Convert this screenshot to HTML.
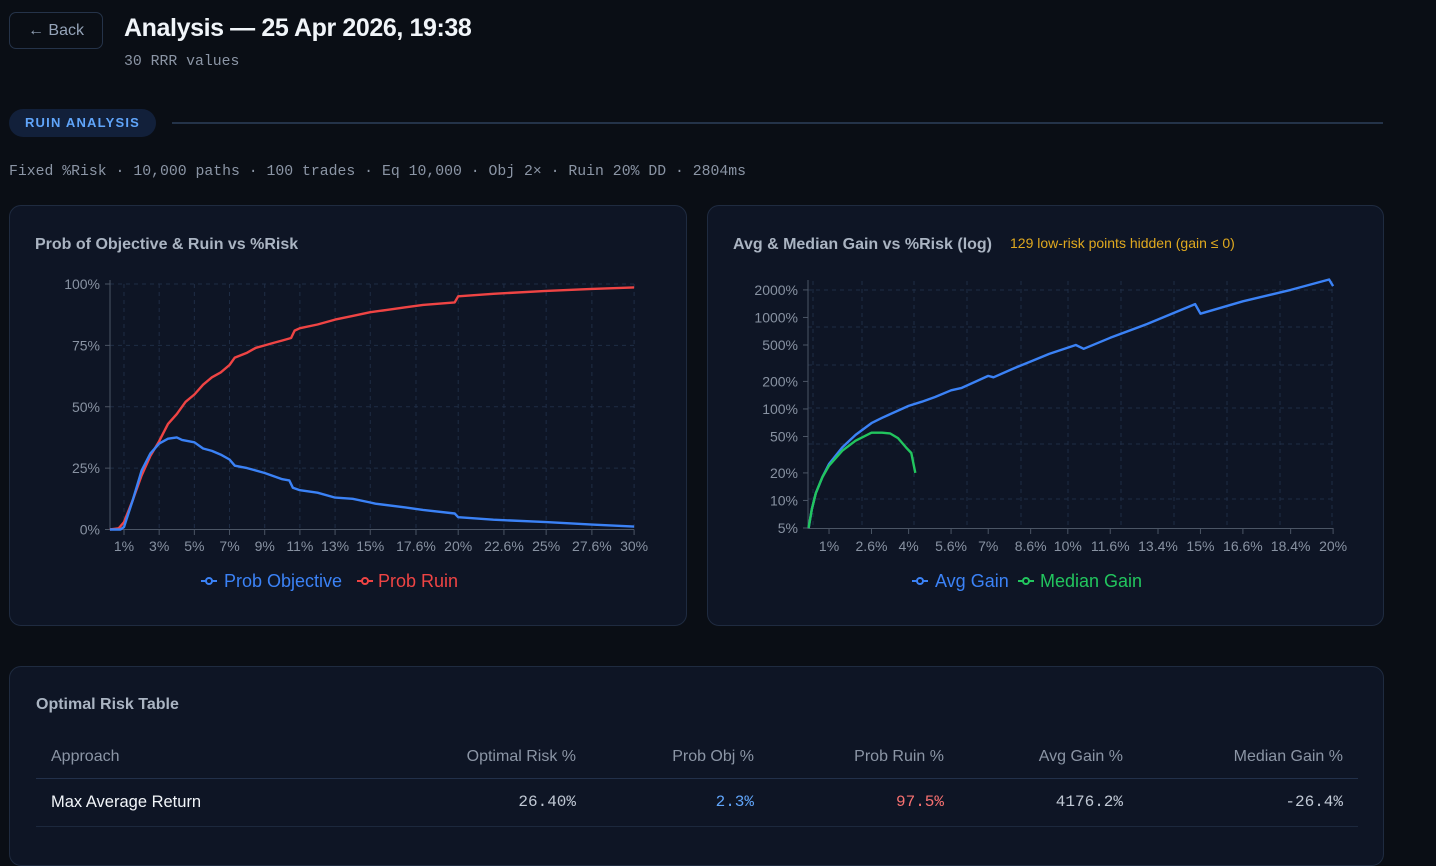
<!DOCTYPE html>
<html><head><meta charset="utf-8">
<style>
*{box-sizing:border-box;margin:0;padding:0}
html,body{width:1436px;height:834px;overflow:hidden;background:#0a0e15;font-family:"Liberation Sans",sans-serif;color:#e5e7eb}
.abs{position:absolute}
.mono{font-family:"Liberation Mono",monospace}
.back{left:9px;top:12px;width:94px;height:37px;border:1px solid #253349;border-radius:7px;color:#94a3b8;font-size:16px;line-height:35px;text-align:center}
.title{left:124px;top:14px;font-size:25px;font-weight:bold;color:#f1f5f9;letter-spacing:-0.4px}
.sub{left:124px;top:54px;font-size:14.8px;color:#8b95a5}
.pill{left:9px;top:109px;width:147px;height:28px;border-radius:14px;background:#12203a;color:#60a5fa;font-size:13px;font-weight:bold;letter-spacing:1.2px;line-height:28px;text-align:center}
.rule{left:172px;top:122px;width:1211px;height:2px;background:#243349}
.info{left:9px;top:164px;font-size:14.8px;color:#8b95a5}
.panel{background:#0e1525;border:1px solid #1f2b40;border-radius:12px}
table{border-collapse:collapse;width:1322px}
th{font-weight:normal;color:#8b95a5;font-size:16px;height:42px;text-align:right}
td{font-size:16px;height:48px;text-align:right;color:#c0c8d4}
</style></head><body>
<div class="abs back">← Back</div>
<div class="abs title">Analysis — 25 Apr 2026, 19:38</div>
<div class="abs sub mono">30 RRR values</div>
<div class="abs pill">RUIN ANALYSIS</div>
<div class="abs rule"></div>
<div class="abs info mono">Fixed %Risk · 10,000 paths · 100 trades · Eq 10,000 · Obj 2× · Ruin 20% DD · 2804ms</div>
<div class="abs panel" style="left:9px;top:205px;width:678px;height:421px"></div>
<div class="abs panel" style="left:707px;top:205px;width:677px;height:421px"></div>
<div class="abs panel" style="left:9px;top:666px;width:1375px;height:200px">
<div class="abs" style="left:26px;top:29px;font-size:16px;font-weight:bold;color:#aab4c2">Optimal Risk Table</div>
<table class="abs" style="left:26px;top:69px">
<tr style="border-bottom:1px solid #22304a"><th style="text-align:left;padding-left:15px">Approach</th><th style="width:230px">Optimal Risk %</th><th style="width:178px">Prob Obj %</th><th style="width:190px">Prob Ruin %</th><th style="width:179px">Avg Gain %</th><th style="width:235px;padding-right:15px">Median Gain %</th></tr>
<tr style="border-bottom:1px solid #1c283d"><td style="text-align:left;padding-left:15px;color:#f1f5f9;font-size:16.5px">Max Average Return</td><td class="mono">26.40%</td><td class="mono" style="color:#60a5fa">2.3%</td><td class="mono" style="color:#f87171">97.5%</td><td class="mono">4176.2%</td><td class="mono" style="padding-right:15px">-26.4%</td></tr>
</table>
</div>
<svg class="abs" style="left:0;top:0" width="1436" height="834" id="s" font-family="Liberation Sans, sans-serif">
<text x="35" y="249" font-size="16" font-weight="bold" fill="#aab4c2">Prob of Objective &amp; Ruin vs %Risk</text>
<text x="733" y="249" font-size="16" font-weight="bold" fill="#aab4c2">Avg &amp; Median Gain vs %Risk (log)</text>
<text x="1010" y="248" font-size="14" fill="#e0a91f">129 low-risk points hidden (gain ≤ 0)</text>
<g id="g"></g>
<g font-size="18">
<line x1="201" y1="581" x2="217" y2="581" stroke="#3b82f6" stroke-width="2"/><circle cx="209" cy="581" r="3" fill="#0e1525" stroke="#3b82f6" stroke-width="2"/>
<text x="224" y="587" fill="#3b82f6">Prob Objective</text>
<line x1="357" y1="581" x2="373" y2="581" stroke="#ef4444" stroke-width="2"/><circle cx="365" cy="581" r="3" fill="#0e1525" stroke="#ef4444" stroke-width="2"/>
<text x="378" y="587" fill="#ef4444">Prob Ruin</text>
<line x1="912" y1="581" x2="928" y2="581" stroke="#3b82f6" stroke-width="2"/><circle cx="920" cy="581" r="3" fill="#0e1525" stroke="#3b82f6" stroke-width="2"/>
<text x="935" y="587" fill="#3b82f6">Avg Gain</text>
<line x1="1018" y1="581" x2="1034" y2="581" stroke="#22c55e" stroke-width="2"/><circle cx="1026" cy="581" r="3" fill="#0e1525" stroke="#22c55e" stroke-width="2"/>
<text x="1040" y="587" fill="#22c55e">Median Gain</text>
</g>
</svg>
<script>
var g=document.getElementById('g'),h='';
function L(x1,y1,x2,y2,c,d){h+='<line x1="'+x1+'" y1="'+y1+'" x2="'+x2+'" y2="'+y2+'" stroke="'+c+'" stroke-width="1"'+(d?' stroke-dasharray="4 4"':'')+'/>';}
function T(x,y,t,a){h+='<text x="'+x+'" y="'+y+'" font-size="14" fill="#8892a2" text-anchor="'+a+'">'+t+'</text>';}
var lx=function(p){return 106.4+17.59*p},ly=function(v){return 529.5-v*2.455};
var xt=[[1,'1%'],[3,'3%'],[5,'5%'],[7,'7%'],[9,'9%'],[11,'11%'],[13,'13%'],[15,'15%'],[17.6,'17.6%'],[20,'20%'],[22.6,'22.6%'],[25,'25%'],[27.6,'27.6%'],[30,'30%']];
[0,25,50,75,100].forEach(function(v){L(110,ly(v),634,ly(v),'#1f2d45',1);T(100,ly(v)+5,v+'%','end');L(105,ly(v),110,ly(v),'#4b5565')});
xt.forEach(function(t){var x=lx(t[0]);L(x,284,x,529.5,'#1f2d45',1);L(x,529.5,x,535,'#4b5565');T(x,551,t[1],'middle')});
L(110,280,110,530,'#4b5565');L(110,529.5,634,529.5,'#4b5565');
function P(pts,fx,fy,c){var d='';pts.forEach(function(p,i){d+=(i?'L':'M')+fx(p[0]).toFixed(1)+' '+fy(p[1]).toFixed(1)});h+='<path d="'+d+'" fill="none" stroke="'+c+'" stroke-width="2.4" stroke-linejoin="round"/>';}
P([[0.2,0],[0.7,0.5],[1,3],[1.5,12],[2,22],[2.5,30],[3,36],[3.5,43],[4,47],[4.5,52],[5,55],[5.5,59],[6,62],[6.5,64],[7,67],[7.3,70],[8,72],[8.5,74],[9,75],[9.5,76],[10,77],[10.5,78],[10.7,81],[11,82],[12,83.5],[13,85.5],[14,87],[15,88.5],[16,89.5],[17,90.5],[18,91.5],[19.8,92.5],[20,95],[22,96],[25,97.2],[27.6,98],[30,98.6]],lx,ly,'#ef4444');
P([[0.2,0],[0.8,0],[1,1],[1.5,12],[2,24],[2.5,31],[3,35],[3.5,37],[4,37.5],[4.3,36.5],[5,35.5],[5.5,33],[6,32],[6.5,30.5],[7,28.5],[7.3,26],[8,25],[9,23],[10,20.5],[10.4,20],[10.6,17],[11,16],[12,15],[13,13],[14,12.5],[15,11],[15.3,10.5],[17,9],[18,8],[19.8,6.5],[20,5],[22,4],[25,3],[27.6,2],[30,1.2]],lx,ly,'#3b82f6');
var rx=function(p){return 802.5+26.53*p},ry=function(v){return 528-(Math.log10(v)-0.699)*91.5};
[290,327,365,408,444,499].forEach(function(y){L(808,y,1333,y,'#1f2d45',1)});
[813,862,914,967,1021,1068,1121,1174,1227,1280,1332].forEach(function(x){L(x,281,x,528,'#1f2d45',1)});
[[5,'5%'],[10,'10%'],[20,'20%'],[50,'50%'],[100,'100%'],[200,'200%'],[500,'500%'],[1000,'1000%'],[2000,'2000%']].forEach(function(t){var y=ry(t[0]);L(803,y,808,y,'#4b5565');T(798,y+5,t[1],'end')});
[[1,'1%'],[2.6,'2.6%'],[4,'4%'],[5.6,'5.6%'],[7,'7%'],[8.6,'8.6%'],[10,'10%'],[11.6,'11.6%'],[13.4,'13.4%'],[15,'15%'],[16.6,'16.6%'],[18.4,'18.4%'],[20,'20%']].forEach(function(t){var x=rx(t[0]);L(x,528,x,534,'#4b5565');T(x,551,t[1],'middle')});
L(808,280,808,529,'#4b5565');L(808,528.5,1333,528.5,'#4b5565');
P([[0.23,5],[0.35,8],[0.5,12],[0.75,18],[1,25],[1.5,38],[2,52],[2.6,70],[3,80],[4,108],[4.5,120],[5,135],[5.6,160],[6,170],[7,230],[7.2,222],[8,280],[8.6,330],[9.3,400],[10.3,500],[10.6,455],[11.6,600],[13,850],[14.8,1400],[15,1100],[16.6,1500],[18.4,2000],[19.85,2600],[20,2200]],rx,ry,'#3b82f6');
P([[0.23,5],[0.35,8],[0.5,12],[0.75,18],[1,24],[1.5,35],[2,45],[2.6,55],[3,55],[3.3,54],[3.6,48],[3.9,38],[4.1,33],[4.25,20]],rx,ry,'#22c55e');
g.innerHTML=h;
</script>
</body></html>
